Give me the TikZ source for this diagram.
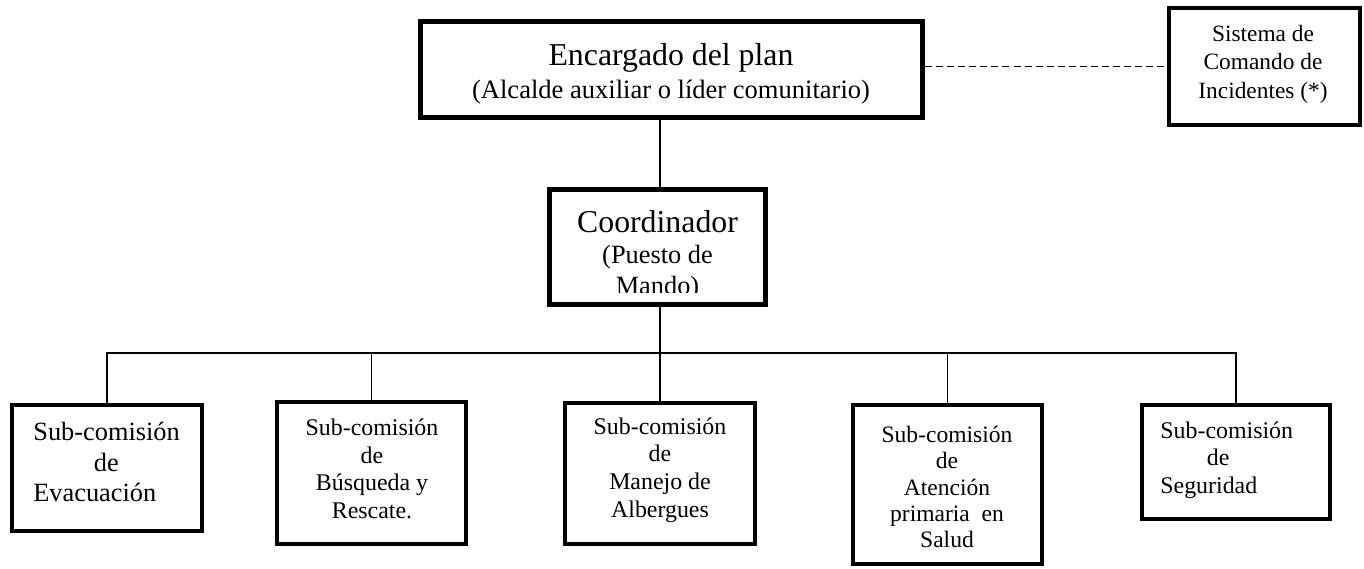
\documentclass[tikz,border=0pt]{standalone}
\usepackage{fontspec}
\setmainfont{Liberation Serif}
\usepackage{tikz}
\usetikzlibrary{positioning}
\tikzstyle{caja}=[draw,rectangle,line width=2.27pt,inner sep=0pt,black]
\tikzstyle{cajaG}=[caja,line width=2.83pt]
\tikzstyle{texto}=[inner sep=0pt,align=center,font=\fontsize{13.6}{15.7}\selectfont]
\tikzstyle{linea}=[draw,line width=0.9pt,black]
\tikzstyle{enlace}=[draw,line width=0.85pt,dash pattern=on 4pt off 2.3pt,black]

\begin{document}
\begin{tikzpicture}[x=0.02cm,y=-0.02cm]
\useasboundingbox (0,0) rectangle (1364,568);

	\node[cajaG,minimum width=10.04cm,minimum height=1.92cm] (enc) at (671.5,69.5) {};
	\node[texto,font=\fontsize{15.1}{18.7}\selectfont] (enct) at (671,73.5) 
	{{\fontsize{18.1}{20}\selectfont Encargado del plan}\\(Alcalde auxiliar o líder comunitario)};
	
	\node[caja,minimum width=3.82cm,minimum height=2.34cm] (sci) at (1264.5,66.5) {};
	\node[texto,font=\fontsize{13.3}{16.2}\selectfont] (scit) at (1263,64) 
	{Sistema de\\Comando de\\Incidentes (*)};
	
	\path[enlace] (sci.west -| enc.east) -- (sci.west);

	\node[cajaG,minimum width=4.32cm,minimum height=2.3cm] (coord) at (657.5,247) {};
	\begin{scope}
	\clip (552,192) rectangle (763,292);
	\node[texto,font=\fontsize{15}{17.8}\selectfont] (coordt) at (657.5,255.4) 
	{{\fontsize{18.1}{20}\selectfont Coordinador}\\(Puesto de\\Mando)};
	\end{scope}


% % % Sub-comisiones

	\node[caja,minimum width=3.8cm,minimum height=2.52cm] (evac) at (107,468) {};
	\node[caja,minimum width=3.78cm,minimum height=2.84cm] (bus) at (371.5,473) {};
	\node[caja,minimum width=3.8cm,minimum height=2.82cm] (alb) at (660,473.5) {};
	\node[caja,minimum width=3.78cm,minimum height=3.18cm] (aten) at (947.5,484.5) {};
	\node[caja,minimum width=3.76cm,minimum height=2.28cm] (seg) at (1236,462) {};
	
	\node[texto,anchor=west,align=left,font=\fontsize{15}{17.6}\selectfont] (evact) at (33,462) 
	{Sub-comisión\\\hspace*{2.3em}de\\Evacuación};
	\node[texto] (bust) at (372,469) {Sub-comisión\\de\\Búsqueda y\\Rescate.};
	\node[texto] (albt) at (660,470) {Sub-comisión\\de\\Manejo de\\Albergues};
	\node[texto,font=\fontsize{13.4}{15}\selectfont] (atent) at (947,487) 
	{Sub-comisión\\de\\Atención\\primaria\ \ en\\Salud};
	\node[texto,anchor=west,align=left] (segt) at (1160,460) 
	{Sub-comisión\\\hspace*{1.95em}de\\Seguridad};


	\path[linea] (enc.south -| alb.north) -- (coord.north -| alb.north);
	\path[linea] (alb.north |- coord.south) -- (alb.north);

	\coordinate (barra) at (0,353);
	\path[linea] (evac.north) -- (evac.north |- barra) -- (seg.north |- barra) -- (seg.north);
	\path[linea] (bus.north) -- (bus.north |- barra);
	\path[linea] (aten.north) -- (aten.north |- barra);

\end{tikzpicture}
\end{document}
